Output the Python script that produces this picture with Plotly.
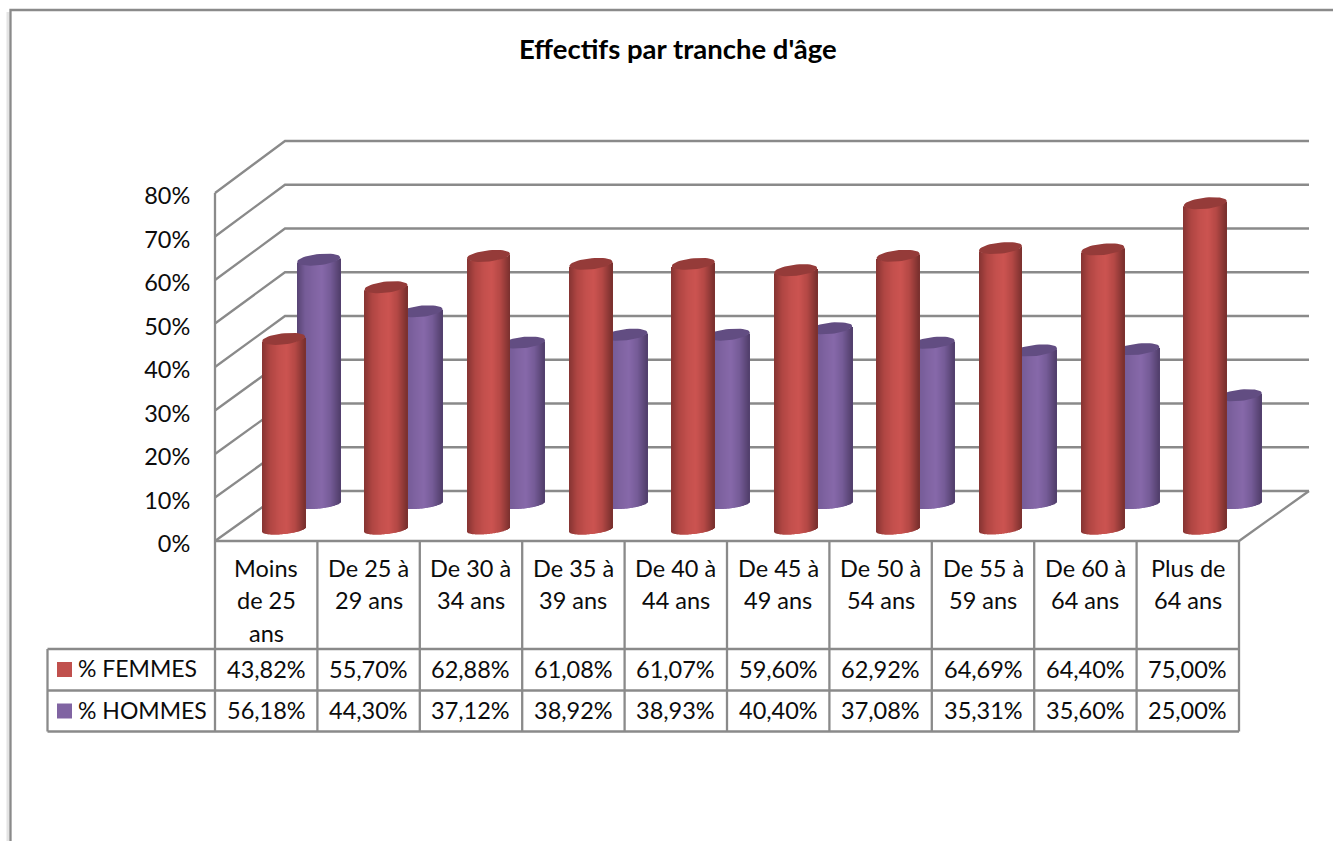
import math
import plotly.graph_objects as go

# Chart data
TITLE = "Effectifs par tranche d'âge"
CATEGORIES = ["Moins<br>de 25<br>ans", "De 25 à<br>29 ans", "De 30 à<br>34 ans", "De 35 à<br>39 ans",
              "De 40 à<br>44 ans", "De 45 à<br>49 ans", "De 50 à<br>54 ans", "De 55 à<br>59 ans",
              "De 60 à<br>64 ans", "Plus de<br>64 ans"]
FEMMES = [43.82, 55.70, 62.88, 61.08, 61.07, 59.60, 62.92, 64.69, 64.40, 75.00]
HOMMES = [56.18, 44.30, 37.12, 38.92, 38.93, 40.40, 37.08, 35.31, 35.60, 25.00]
Y_TICKS = [0, 10, 20, 30, 40, 50, 60, 70, 80]

# Page geometry
W, H = 1333, 841
X0, CAT_W = 215.0, 102.4      # front left corner, width of one category
Y0, UNIT = 541.0, 4.35        # front floor line, pixels per percentage point
DEPTH_X, DEPTH_Y = 70.0, 50.0  # oblique offset between the front and the back wall
BACK_UNIT = 4.375

FONT = "Lato"
GRID = "#8a8a8a"
TEXT = "#0c0c0c"
LABEL_SIZE = 23.5


def vx(px):
    return (px - X0) / CAT_W


def vy(py):
    return (Y0 - py) / UNIT


def paper_y(py):
    return 1 - py / H


fig = go.Figure()


def lines(points, color=GRID, width=2.3, axes=("x", "y")):
    """Draw one polyline given in page pixels."""
    fig.add_trace(go.Scatter(
        x=[vx(p[0]) for p in points], y=[vy(p[1]) for p in points],
        mode="lines", line=dict(color=color, width=width),
        xaxis=axes[0], yaxis=axes[1], hoverinfo="skip", showlegend=False))


# Chart frame with its faint shadow
lines([(8, 841), (8, 12)], color="#e4e4e4", width=3)
lines([(10.5, 841), (10.5, 10), (1333, 10)])

# Walls and floor of the 3D box
for t in Y_TICKS:
    yf = Y0 - t * UNIT
    yb = Y0 - DEPTH_Y - t * BACK_UNIT
    lines([(X0, yf), (X0 + DEPTH_X, yb), (X0 + DEPTH_X + 10 * CAT_W, yb)])
lines([(X0, Y0 - 80 * UNIT), (X0, 731)])
lines([(X0, Y0), (X0 + 10 * CAT_W, Y0), (X0 + 10 * CAT_W + DEPTH_X, Y0 - DEPTH_Y)])

# Data table grid
ROWS = [649, 690.5, 731.5]
for r in ROWS:
    lines([(47.5, r), (X0 + 10 * CAT_W, r)])
lines([(47.5, ROWS[0]), (47.5, ROWS[2])])
for k in range(1, 11):
    px = X0 + k * CAT_W
    lines([(px, Y0), (px, ROWS[2])])


def mix(a, b, t):
    return tuple(a[i] + (b[i] - a[i]) * t for i in range(3))


def shade(u, stops):
    """Colour across a cylinder; u runs from -1 (left edge) to 1 (right edge)."""
    for (u0, c0), (u1, c1) in zip(stops, stops[1:]):
        if u <= u1:
            c = mix(c0, c1, (u - u0) / (u1 - u0))
            return "rgb(%d,%d,%d)" % c
    return "rgb(%d,%d,%d)" % stops[-1][1]


RED_STOPS = [(-1, (134, 52, 50)), (-0.62, (176, 70, 67)), (-0.2, (196, 80, 77)), (0.15, (204, 84, 81)),
             (0.55, (180, 72, 69)), (1, (122, 48, 46))]
PURPLE_STOPS = [(-1, (88, 68, 116)), (-0.62, (118, 92, 152)), (-0.2, (128, 100, 162)), (0.15, (135, 105, 170)),
                (0.55, (118, 92, 152)), (1, (82, 63, 108))]

HALF_W = 21.5 / CAT_W
FOOT_ELL = 4.5 / UNIT
CAP_ELL = 5.6 / UNIT
TILT = 2.2 / UNIT
SLICES = 43


def cylinders(values, x_shift, base, stops, cap, xa, ya, name):
    """Draw a row of cylinders as narrow shaded bars topped by an elliptical cap."""
    centers = [i + 0.5 + x_shift for i in range(len(values))]
    step = 2 * HALF_W / SLICES
    for s in range(SLICES):
        u = -1 + (s + 0.5) * 2 / SLICES
        low = base + TILT * u - FOOT_ELL * math.sqrt(max(0, 1 - u * u))
        fig.add_trace(go.Bar(
            x=[c + u * HALF_W for c in centers], y=values,
            base=[low] * len(values), width=step,
            marker=dict(color=shade(u, stops), line=dict(width=0)),
            xaxis=xa, yaxis=ya, name=name, hoverinfo="skip", showlegend=False))
    cx, cy = [], []
    for c, v in zip(centers, values):
        for a in range(0, 361, 8):
            ca, sa = math.cos(math.radians(a)), math.sin(math.radians(a))
            cx.append(c + HALF_W * ca)
            cy.append(base + v + TILT * ca + CAP_ELL * sa)
        cx.append(None)
        cy.append(None)
    fig.add_trace(go.Scatter(
        x=cx, y=cy, mode="lines", fill="toself", fillcolor=cap,
        line=dict(width=0, color=cap), xaxis=xa, yaxis=ya, hoverinfo="skip", showlegend=False))


# The rear series goes on a lower overlay so that the front series covers it
cylinders(HOMMES, 0.6835 * 0.75, 37 / UNIT, PURPLE_STOPS, "#624d82", "x2", "y2", "% HOMMES")
cylinders(FEMMES, 0.6835 * 0.25, 11.5 / UNIT, RED_STOPS, "#953b39", "x3", "y3", "% FEMMES")

# Legend keys inside the data table
for py, col, nm in [(669.5, "#c0504d", "% FEMMES"), (711, "#8064a2", "% HOMMES")]:
    fig.add_trace(go.Scatter(
        x=[vx(64.5)], y=[vy(py)], mode="markers",
        marker=dict(symbol="square", size=15, color=col, line=dict(width=0)),
        xaxis="x3", yaxis="y3", name=nm, hoverinfo="skip", showlegend=False))

annotations = []


def label(px, py, text, size=LABEL_SIZE, xanchor="center", bold=False, color=TEXT):
    annotations.append(dict(
        x=px / W, y=paper_y(py), xref="paper", yref="paper", text=f"<b>{text}</b>" if bold else text,
        showarrow=False, xanchor=xanchor, yanchor="middle",
        font=dict(family=FONT, size=size, color=color)))


label(677.5, 49, TITLE, size=27.5, bold=True, color="#000000")

LINE_Y = [567.5, 600, 632.5]
for i, cat in enumerate(CATEGORIES):
    center = X0 + (i + 0.5) * CAT_W
    for part, py in zip(cat.split("<br>"), LINE_Y):
        label(center, py, part)
    label(center, 668.5, f"{FEMMES[i]:.2f}".replace(".", ",") + "%")
    label(center, 710, f"{HOMMES[i]:.2f}".replace(".", ",") + "%")
label(76, 667.5, "% FEMMES", size=23, xanchor="left")
label(76, 709.5, "% HOMMES", size=23, xanchor="left")

x_range = [vx(0), vx(W)]
y_range = [vy(H), vy(0)]
hidden_x = dict(range=x_range, visible=False, fixedrange=True)
hidden_y = dict(range=y_range, visible=False, fixedrange=True)

fig.update_layout(
    width=W, height=H, margin=dict(l=0, r=0, t=0, b=0, pad=0),
    paper_bgcolor="white", plot_bgcolor="white", barmode="overlay", showlegend=False,
    font=dict(family=FONT, color=TEXT),
    annotations=annotations,
    xaxis=dict(range=x_range, visible=False, fixedrange=True, domain=[0, 1]),
    yaxis=dict(range=y_range, fixedrange=True, anchor="free", position=X0 / W, showgrid=False,
               zeroline=False, showline=False, tickmode="array", tickvals=Y_TICKS,
               ticktext=[f"{t}%" for t in Y_TICKS], ticks="outside", ticklen=20,
               tickcolor="rgba(0,0,0,0)", tickfont=dict(family=FONT, size=LABEL_SIZE, color=TEXT),
               ticklabelshift=3),
    xaxis2=dict(hidden_x, overlaying="x"), yaxis2=dict(hidden_y, overlaying="y", anchor="x2"),
    xaxis3=dict(hidden_x, overlaying="x"), yaxis3=dict(hidden_y, overlaying="y", anchor="x3"),
)

fig.write_html("out.html", config={"displayModeBar": False})
